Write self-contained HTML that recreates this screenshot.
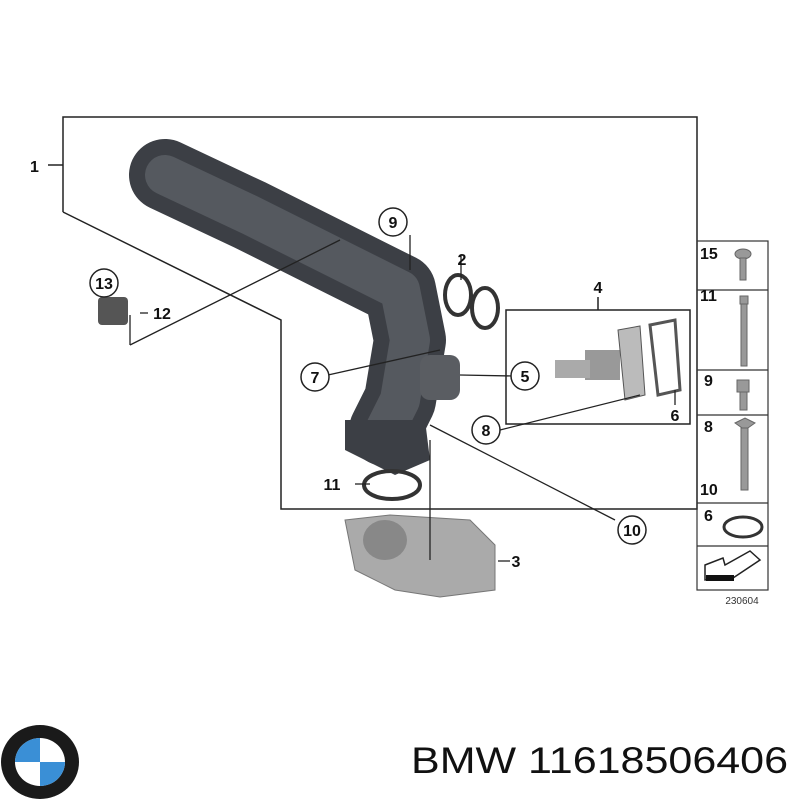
<!DOCTYPE html>
<html><head><style>
body{margin:0;background:#fff}
svg{display:block}
text{font-family:"Liberation Sans",sans-serif;font-weight:bold;fill:#111}
</style></head><body>
<svg width="800" height="800" viewBox="0 0 800 800">
<polyline points="63,212 63,117 697,117 697,509 281,509 281,320 63,212" fill="none" stroke="#222" stroke-width="1.5"/>
<line x1="48" y1="165" x2="63" y2="165" stroke="#222" stroke-width="1.5"/>
<text x="30" y="172" font-size="16">1</text>
<g stroke-linecap="round" stroke-linejoin="round" fill="none">
<polyline points="165,175 250,215 330,255 400,290 410,340 400,400 385,430" stroke="#3c3f45" stroke-width="72"/>
<polyline points="165,175 250,215 330,255 400,290 410,340 400,400 385,430" stroke="#55595f" stroke-width="40"/>
</g>
<polygon points="345,420 425,420 430,460 395,475 345,450" fill="#3c3f45"/>
<rect x="420" y="355" width="40" height="45" rx="10" fill="#5a5d62"/>
<ellipse cx="458" cy="295" rx="13" ry="20" fill="none" stroke="#333" stroke-width="4"/>
<ellipse cx="485" cy="308" rx="13" ry="20" fill="none" stroke="#333" stroke-width="4"/>
<rect x="98" y="297" width="30" height="28" rx="4" fill="#555"/>
<polyline points="598,297 598,310 690,310 690,424 506,424 506,310 598,310" fill="none" stroke="#222" stroke-width="1.5"/>
<rect x="585" y="350" width="35" height="30" fill="#999"/>
<rect x="555" y="360" width="35" height="18" fill="#aaa"/>
<polygon points="618,330 640,326 645,395 625,400" fill="#bbb" stroke="#555"/>
<polygon points="650,325 675,320 680,390 658,395" fill="none" stroke="#555" stroke-width="3"/>
<ellipse cx="392" cy="485" rx="28" ry="14" fill="none" stroke="#333" stroke-width="4"/>
<polygon points="345,520 390,515 470,520 495,545 495,590 440,597 395,590 355,570" fill="#aaa" stroke="#777"/>
<ellipse cx="385" cy="540" rx="22" ry="20" fill="#888"/>
<g stroke="#222" stroke-width="1.3" fill="none">
<line x1="130" y1="345" x2="340" y2="240"/>
<line x1="130" y1="315" x2="130" y2="345"/>
<line x1="328" y1="375" x2="440" y2="350"/>
<line x1="460" y1="375" x2="513" y2="376"/>
<line x1="500" y1="430" x2="640" y2="395"/>
<line x1="430" y1="425" x2="615" y2="520"/>
<line x1="370" y1="484" x2="355" y2="484"/>
<line x1="498" y1="561" x2="510" y2="561"/>
<line x1="140" y1="313" x2="148" y2="313"/>
<line x1="410" y1="235" x2="410" y2="270"/>
<line x1="461" y1="255" x2="461" y2="280"/>
<line x1="675" y1="390" x2="675" y2="405"/>
<line x1="430" y1="440" x2="430" y2="560"/>
</g>
<g fill="#fff" stroke="#222" stroke-width="1.5">
<circle cx="393" cy="222" r="14"/><circle cx="104" cy="283" r="14"/>
<circle cx="315" cy="377" r="14"/><circle cx="525" cy="376" r="14"/>
<circle cx="486" cy="430" r="14"/><circle cx="632" cy="530" r="14"/>
</g>
<g font-size="16" text-anchor="middle">
<text x="393" y="228">9</text><text x="104" y="289">13</text>
<text x="315" y="383">7</text><text x="525" y="382">5</text>
<text x="486" y="436">8</text><text x="632" y="536">10</text>
<text x="462" y="265">2</text><text x="598" y="293">4</text>
<text x="675" y="421">6</text><text x="162" y="319">12</text>
<text x="332" y="490">11</text><text x="516" y="567">3</text>
</g>
<g fill="none" stroke="#333" stroke-width="1.2">
<rect x="697" y="241" width="71" height="349"/>
<line x1="697" y1="290" x2="768" y2="290"/><line x1="697" y1="370" x2="768" y2="370"/>
<line x1="697" y1="415" x2="768" y2="415"/><line x1="697" y1="503" x2="768" y2="503"/>
<line x1="697" y1="546" x2="768" y2="546"/>
</g>
<g fill="#999" stroke="#666">
<ellipse cx="743" cy="254" rx="8" ry="5"/><rect x="740" y="258" width="6" height="22"/>
<rect x="740" y="296" width="8" height="8"/><rect x="741" y="304" width="6" height="62"/>
<rect x="737" y="380" width="12" height="12"/><rect x="740" y="392" width="7" height="18"/>
<polygon points="735,423 745,418 755,423 745,430"/><rect x="741" y="428" width="7" height="62"/>
</g>
<ellipse cx="743" cy="527" rx="19" ry="10" fill="none" stroke="#333" stroke-width="3"/>
<polygon points="705,565 723,558 725,565 750,551 760,560 733,578 705,580" fill="#fff" stroke="#222" stroke-width="1.5"/>
<rect x="706" y="575" width="28" height="6" fill="#111"/>
<g font-size="16"><text x="700" y="259">15</text><text x="700" y="301">11</text><text x="704" y="386">9</text><text x="704" y="432">8</text><text x="700" y="495">10</text><text x="704" y="521">6</text></g>
<text x="742" y="604" font-size="10" text-anchor="middle" style="font-weight:normal;fill:#333">230604</text>
<!-- BMW logo -->
<ellipse cx="40" cy="762" rx="39" ry="37" fill="#1a1a1a"/>
<ellipse cx="40" cy="762" rx="25" ry="24" fill="#fff"/>
<path d="M40,762 L40,738 A25,24 0 0 0 15,762 Z M40,762 L40,786 A25,24 0 0 0 65,762 Z" fill="#3a8fd6"/>
<text x="411" y="773" font-size="37" textLength="377" lengthAdjust="spacingAndGlyphs" style="font-weight:normal;fill:#111">BMW 11618506406</text>
</svg>
</body></html>
